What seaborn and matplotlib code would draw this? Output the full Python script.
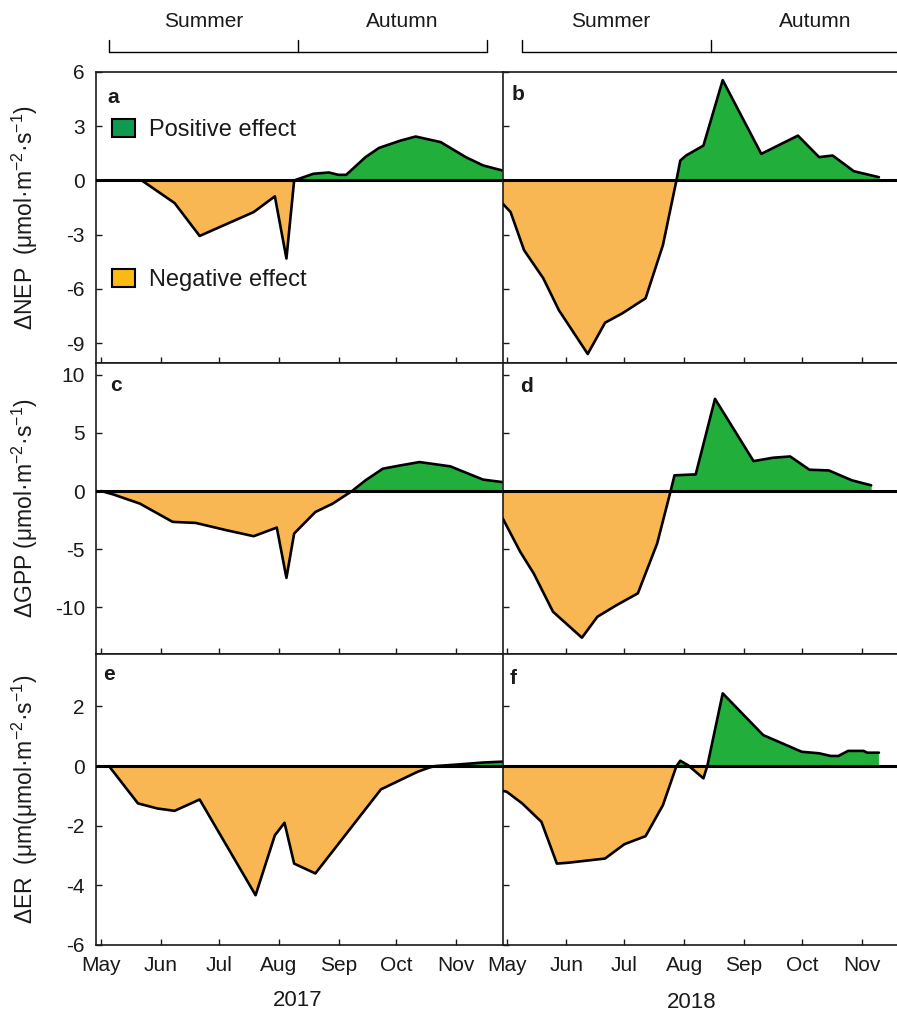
# %%
import numpy as np
import pandas as pd
import matplotlib
matplotlib.use('Agg')
import matplotlib.pyplot as plt
import matplotlib.dates as mdates
import matplotlib.transforms as mtransforms
from matplotlib.patches import Patch
import seaborn as sns

sns.set_style('ticks')
plt.rcParams['font.family'] = ['Liberation Sans', 'DejaVu Sans']
plt.rcParams['mathtext.fontset'] = 'custom'
plt.rcParams['mathtext.rm'] = 'Liberation Sans'
plt.rcParams['axes.unicode_minus'] = False
for k in ['text.color', 'axes.labelcolor', 'xtick.color', 'ytick.color']:
    plt.rcParams[k] = '#1a1a1a'

# %%
# dados (dia, efeito)
nep_2017_dates = ['2017-05-22', '2017-06-08', '2017-06-21', '2017-07-19', '2017-07-30',
                  '2017-08-05', '2017-08-09', '2017-08-19', '2017-08-27', '2017-09-01',
                  '2017-09-05', '2017-09-15', '2017-09-22', '2017-10-03', '2017-10-11',
                  '2017-10-24', '2017-11-06', '2017-11-15', '2017-11-25']
nep_2017 = [0.0, -1.25, -3.07, -1.75, -0.88, -4.32, 0.0, 0.37, 0.44, 0.31,
            0.31, 1.29, 1.80, 2.20, 2.43, 2.12, 1.29, 0.83, 0.55]

nep_2018_dates = ['2018-04-29', '2018-05-03', '2018-05-10', '2018-05-20', '2018-05-28',
                  '2018-06-12', '2018-06-21', '2018-06-30', '2018-07-12', '2018-07-21',
                  '2018-07-28', '2018-07-30', '2018-08-02', '2018-08-11', '2018-08-21',
                  '2018-09-10', '2018-09-29', '2018-10-10', '2018-10-17', '2018-10-28',
                  '2018-11-10']
nep_2018 = [-1.29, -1.75, -3.86, -5.42, -7.17, -9.60, -7.87, -7.35, -6.52, -3.58,
            0.0, 1.10, 1.38, 1.93, 5.55, 1.47, 2.48, 1.29, 1.38, 0.51, 0.18]

gpp_2017_dates = ['2017-05-01', '2017-05-07', '2017-05-21', '2017-06-07', '2017-06-19',
                  '2017-07-05', '2017-07-19', '2017-07-31', '2017-08-05', '2017-08-09',
                  '2017-08-20', '2017-08-29', '2017-09-08', '2017-09-15', '2017-09-24',
                  '2017-10-03', '2017-10-13', '2017-10-29', '2017-11-15', '2017-11-25']
gpp_2017 = [0.0, -0.28, -1.08, -2.65, -2.74, -3.37, -3.88, -3.14, -7.46, -3.65,
            -1.80, -1.08, 0.0, 0.92, 1.92, 2.20, 2.49, 2.12, 0.98, 0.77]

gpp_2018_dates = ['2018-04-29', '2018-05-08', '2018-05-15', '2018-05-25', '2018-06-09',
                  '2018-06-17', '2018-06-27', '2018-07-08', '2018-07-18', '2018-07-25',
                  '2018-07-27', '2018-08-07', '2018-08-17', '2018-09-06', '2018-09-16',
                  '2018-09-25', '2018-10-05', '2018-10-15', '2018-10-27', '2018-11-06']
gpp_2018 = [-2.37, -5.22, -7.08, -10.37, -12.60, -10.80, -9.80, -8.79, -4.51, 0.0,
            1.35, 1.43, 7.92, 2.57, 2.86, 2.97, 1.83, 1.77, 0.92, 0.49]

er_2017_dates = ['2017-05-05', '2017-05-20', '2017-05-30', '2017-06-08', '2017-06-21',
                 '2017-07-20', '2017-07-30', '2017-08-04', '2017-08-09', '2017-08-20',
                 '2017-09-23', '2017-10-12', '2017-10-18', '2017-10-21', '2017-11-01',
                 '2017-11-15', '2017-11-25']
er_2017 = [0.0, -1.25, -1.42, -1.50, -1.12, -4.33, -2.32, -1.90, -3.27, -3.60,
           -0.78, -0.19, -0.05, 0.0, 0.05, 0.12, 0.15]

er_2018_dates = ['2018-04-29', '2018-05-01', '2018-05-09', '2018-05-19', '2018-05-27',
                 '2018-06-02', '2018-06-21', '2018-07-01', '2018-07-12', '2018-07-21',
                 '2018-07-28', '2018-07-30', '2018-08-03', '2018-08-11', '2018-08-13',
                 '2018-08-21', '2018-09-11', '2018-10-01', '2018-10-10', '2018-10-16',
                 '2018-10-20', '2018-10-25', '2018-11-02', '2018-11-04', '2018-11-10']
er_2018 = [-0.83, -0.86, -1.25, -1.87, -3.27, -3.24, -3.10, -2.62, -2.35, -1.31,
           0.0, 0.18, 0.03, -0.41, 0.0, 2.44, 1.04, 0.48, 0.43, 0.34,
           0.34, 0.51, 0.51, 0.45, 0.45]

row_labels = ['\u0394NEP  (\u03bcmol\u00b7m$^{-2}$\u00b7s$^{-1}$)',
              '\u0394GPP (\u03bcmol\u00b7m$^{-2}$\u00b7s$^{-1}$)',
              '\u0394ER  (\u03bcm(\u03bcmol\u00b7m$^{-2}$\u00b7s$^{-1}$)']
row_ticks = [[-9, -6, -3, 0, 3, 6], [-10, -5, 0, 5, 10], [-6, -4, -2, 0, 2]]
row_ylims = [(-10.1, 6), (-14, 11), (-6, 3.76)]
panel_letters = [['a', 'b'], ['c', 'd'], ['e', 'f']]
years = ['2017', '2018']
seasons = ['Summer', 'Autumn']
season_bounds = [['2017-05-05', '2017-08-11', '2017-11-17'],
                 ['2018-05-09', '2018-08-15', '2018-12-31']]
season_text_x = [['2017-06-23', '2017-10-04'], ['2018-06-24', '2018-10-08']]
xlims = [('2017-04-28 06:00', '2017-11-25 01:00'),
         ('2018-04-28 22:00', '2018-11-25 17:00')]

series = [[(nep_2017_dates, nep_2017), (nep_2018_dates, nep_2018)],
          [(gpp_2017_dates, gpp_2017), (gpp_2018_dates, gpp_2018)],
          [(er_2017_dates, er_2017), (er_2018_dates, er_2018)]]

GREEN = '#22ae3a'
ORANGE = '#f8b752'

# %%
W, H = 897, 1014
fig = plt.figure(figsize=(W / 100, H / 100), dpi=100)

col_x0 = [96, 502.7]
col_w = 406.5
row_y0 = [72, 363, 654]
row_h = 291

letter_pos = [[(0.027, 0.911), (0.023, 0.921)],
              [(0.034, 0.924), (0.043, 0.918)],
              [(0.017, 0.928), (0.018, 0.917)]]

axes = [[None, None] for _ in range(3)]
for r in range(3):
    for c in range(2):
        ax = fig.add_axes([col_x0[c] / W, 1 - (row_y0[r] + row_h) / H, col_w / W, row_h / H])
        axes[r][c] = ax
        dates, vals = series[r][c]
        x = pd.to_datetime(dates)
        v = np.array(vals)

        sns.lineplot(x=x, y=v, ax=ax, color='black', lw=1.9, zorder=3)
        xn = mdates.date2num(x)
        ax.fill_between(xn, v, 0, where=v >= 0, interpolate=True, color=GREEN, lw=0, zorder=2)
        ax.fill_between(xn, v, 0, where=v <= 0, interpolate=True, color=ORANGE, lw=0, zorder=2)
        ax.axhline(0, color='black', lw=2.2, zorder=4)

        ax.set_xlim(pd.to_datetime(xlims[c][0]), pd.to_datetime(xlims[c][1]))
        ax.set_ylim(*row_ylims[r])
        ax.set_yticks(row_ticks[r])
        ax.xaxis.set_major_locator(mdates.MonthLocator())
        ax.xaxis.set_major_formatter(mdates.DateFormatter('%b'))
        ax.tick_params(direction='in', length=4.5, width=1, labelsize=15, pad=8,
                       top=False, right=False)

        for s in ['left', 'bottom', 'top']:
            ax.spines[s].set_linewidth(1.2)
            ax.spines[s].set_color('#1a1a1a')
        ax.spines['right'].set_visible(False)

        if c == 1:
            ax.tick_params(labelleft=False)
        if r < 2:
            ax.tick_params(labelbottom=False)
        ax.set_xlabel('')
        ax.set_ylabel('')

        ax.text(*letter_pos[r][c], panel_letters[r][c], transform=ax.transAxes,
                fontsize=15, fontweight='bold', ha='left', va='center')

    axes[r][0].set_ylabel(row_labels[r], fontsize=16.5)
    axes[r][0].yaxis.set_label_coords(-0.137, 0.5)

# legenda no painel a
handles = [Patch(facecolor='#0e9a50', edgecolor='black', lw=1.5),
           Patch(facecolor='#fdb913', edgecolor='black', lw=1.5)]
axes[0][0].legend(handles, ['Positive effect', 'Negative effect'], loc='upper left',
                  bbox_to_anchor=(0.04, 0.84), frameon=False, fontsize=17,
                  handlelength=0.95, handleheight=0.85, handletextpad=0.6,
                  labelspacing=5.4, borderpad=0, borderaxespad=0)

# estacoes no topo
for c in range(2):
    ax = axes[0][c]
    tr = mtransforms.blended_transform_factory(ax.transData, ax.transAxes)
    b = mdates.date2num(pd.to_datetime(season_bounds[c]))
    ax.plot([b[0], b[2]], [1.07, 1.07], color='black', lw=1, transform=tr, clip_on=False)
    for xb in b:
        ax.plot([xb, xb], [1.07, 1.11], color='black', lw=1, transform=tr, clip_on=False)
    for s, xt in zip(seasons, season_text_x[c]):
        ax.text(mdates.date2num(pd.to_datetime(xt)), 1.172, s, transform=tr,
                fontsize=15, ha='center', va='center')

fig.text(298 / W, 1 - 1000 / H, years[0], fontsize=16, ha='center', va='center')
fig.text(692 / W, 1 - 1003 / H, years[1], fontsize=16, ha='center', va='center')

plt.savefig('out.png', dpi=100)
